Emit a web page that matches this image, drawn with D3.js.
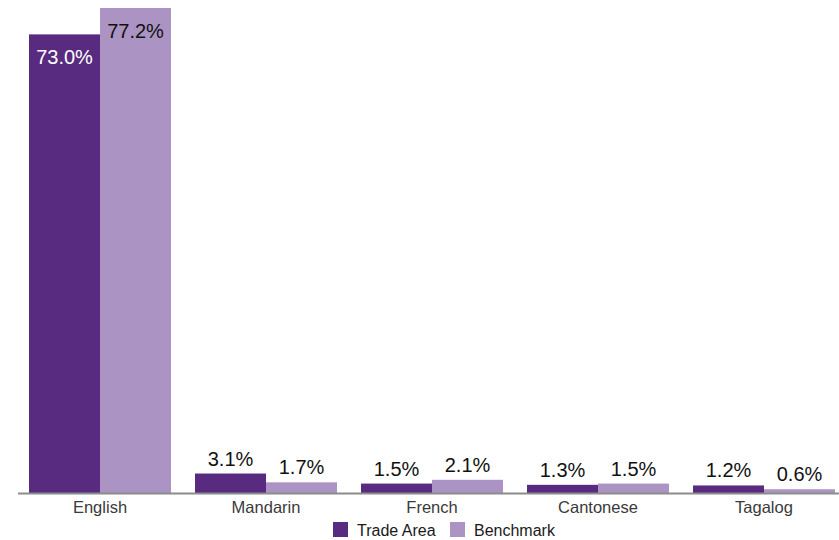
<!DOCTYPE html>
<html>
<head>
<meta charset="utf-8">
<script src="https://cdn.jsdelivr.net/npm/d3@7"></script>
<style>
  body { margin: 0; background: #fff; }
  svg { font-family: "Liberation Sans", Arial, sans-serif; }
</style>
</head>
<body>
<svg id="chart"></svg>
<script>
const width = 839;
const height = 540;

const categories = ["English", "Mandarin", "French", "Cantonese", "Tagalog"];
const seriesNames = ["Trade Area", "Benchmark"];
const tradeArea = [73.0, 3.1, 1.5, 1.3, 1.2];
const benchmark = [77.2, 1.7, 2.1, 1.5, 0.6];
const colors = ["#582a80", "#ab94c3"];

const baseline = 493;

const svg = d3.select("#chart")
  .attr("width", width)
  .attr("height", height);

const x0 = d3.scaleBand()
  .domain(categories)
  .range([17, 847])
  .paddingInner(24 / 166)
  .paddingOuter(12 / 166);

const x1 = d3.scaleBand()
  .domain(seriesNames)
  .range([0, x0.bandwidth()]);

const y = d3.scaleLinear()
  .domain([0, d3.max(benchmark.concat(tradeArea))])
  .range([baseline, 8]);

const rows = categories.map((c, i) => ({
  cat: c,
  vals: [
    { series: seriesNames[0], v: tradeArea[i] },
    { series: seriesNames[1], v: benchmark[i] }
  ]
}));

const groups = svg.selectAll(".group")
  .data(rows)
  .enter()
  .append("g")
  .attr("class", "group")
  .attr("transform", d => `translate(${x0(d.cat)}, 0)`);

groups.selectAll("rect")
  .data(d => d.vals)
  .enter()
  .append("rect")
  .attr("x", d => x1(d.series))
  .attr("y", d => y(d.v))
  .attr("width", x1.bandwidth())
  .attr("height", d => baseline - y(d.v))
  .attr("fill", (d, i) => colors[i]);

// value labels: inside the tall bars, above the short ones
groups.selectAll("text")
  .data(d => d.vals)
  .enter()
  .append("text")
  .attr("x", d => x1(d.series) + x1.bandwidth() / 2)
  .attr("y", d => baseline - y(d.v) > 60 ? y(d.v) + 30 : y(d.v) - 8)
  .attr("text-anchor", "middle")
  .attr("font-size", 20)
  .attr("fill", (d, i) => (baseline - y(d.v) > 60 && i === 0) ? "#fff" : "#111")
  .text(d => d.v.toFixed(1) + "%");

// x axis
const xAxis = d3.axisBottom(x0).tickSize(0).tickPadding(8);
const gx = svg.append("g")
  .attr("transform", `translate(0, ${baseline})`)
  .call(xAxis);
gx.select(".domain")
  .attr("d", `M18,0.5H${width}`)
  .attr("stroke", "#8c8c8c")
  .attr("stroke-width", 2);
gx.selectAll(".tick text")
  .attr("font-size", 16.5)
  .attr("font-family", "'Liberation Sans', Arial, sans-serif")
  .attr("fill", "#3a3a3a");

// legend
const legendX = [333, 450];
const legend = svg.append("g");
seriesNames.forEach((s, i) => {
  legend.append("rect")
    .attr("x", legendX[i])
    .attr("y", 522)
    .attr("width", 15)
    .attr("height", 15)
    .attr("fill", colors[i]);
  legend.append("text")
    .attr("x", legendX[i] + 24)
    .attr("y", 536)
    .attr("font-size", 16)
    .attr("fill", "#1a1a1a")
    .text(s);
});
</script>
</body>
</html>
